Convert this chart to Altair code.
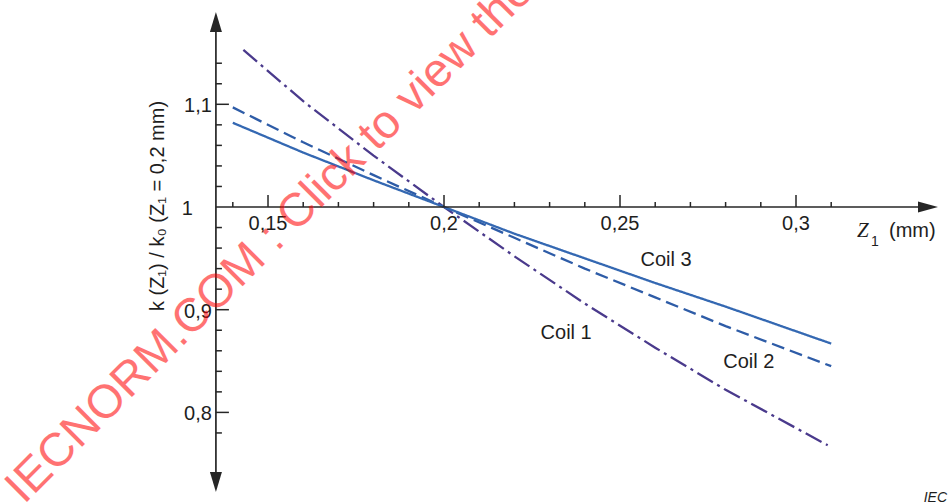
import altair as alt
import pandas as pd

# ---- data ----
coil1_z = [0.143, 0.16, 0.18, 0.20, 0.22, 0.24, 0.26, 0.28, 0.309]
coil1_k = [1.153, 1.103, 1.050, 1.000, 0.952, 0.906, 0.863, 0.822, 0.768]
coil2_z = [0.14, 0.16, 0.18, 0.20, 0.22, 0.24, 0.26, 0.28, 0.31]
coil2_k = [1.097, 1.063, 1.031, 1.000, 0.970, 0.940, 0.912, 0.884, 0.845]
coil3_z = [0.14, 0.16, 0.18, 0.20, 0.22, 0.24, 0.26, 0.28, 0.31]
coil3_k = [1.082, 1.053, 1.026, 1.000, 0.974, 0.950, 0.926, 0.903, 0.867]

series_names = ["Coil 1", "Coil 2", "Coil 3"]
label_z = [0.2347, 0.2866, 0.2631]
label_k = [0.8773, 0.8491, 0.9484]

x_major = [0.15, 0.20, 0.25, 0.30]
x_major_labels = ["0,15", "0,2", "0,25", "0,3"]
x_minor = [0.14, 0.16, 0.17, 0.18, 0.19, 0.21, 0.22, 0.23, 0.24,
           0.26, 0.27, 0.28, 0.29, 0.31]
y_major = [0.8, 0.9, 1.1]
y_major_labels = ["0,8", "0,9", "1,1"]
y_one_label = ["1"]
y_minor = [0.78, 0.82, 0.84, 0.86, 0.88, 0.92, 0.94, 0.96, 0.98,
           1.02, 1.04, 1.06, 1.08, 1.12, 1.14]

# ---- layout constants ----
W, H = 950, 504
X_DOMAIN = [0.07386, 0.34375]
Y_DOMAIN = [0.71081, 1.20156]
X_CROSS = 0.1352
Y_CROSS = 1.0
Y_TOP_BASE, Y_TOP_CTR = 1.1704, 1.1801
Y_BOT_BASE, Y_BOT_CTR = 0.7420, 0.7323
X_ARR_BASE, X_ARR_CTR = 0.3347, 0.3375

FONT = "Liberation Sans"
INK = "#1e1e1e"
AX = "#262626"
colors = ["#4a3a8c", "#2e5ca7", "#3468b2"]
dashes = [[18, 5, 3, 5], [13, 6], [1, 0]]

xs = alt.Scale(domain=X_DOMAIN, nice=False, zero=False)
ys = alt.Scale(domain=Y_DOMAIN, nice=False, zero=False)

rows = []
for name, zz, kk in zip(series_names, [coil1_z, coil2_z, coil3_z], [coil1_k, coil2_k, coil3_k]):
    for z, k in zip(zz, kk):
        rows.append({"coil": name, "z": z, "k": k})
lines_df = pd.DataFrame(rows)

one = alt.Data(values=[{"a": 1}])

lines = alt.Chart(lines_df).mark_line(strokeWidth=2.3, clip=False).encode(
    x=alt.X("z:Q", scale=xs, axis=None),
    y=alt.Y("k:Q", scale=ys, axis=None),
    color=alt.Color("coil:N", scale=alt.Scale(domain=series_names, range=colors), legend=None),
    strokeDash=alt.StrokeDash("coil:N", scale=alt.Scale(domain=series_names, range=dashes), legend=None),
)

labels = alt.Chart(pd.DataFrame({"t": series_names, "z": label_z, "k": label_k})).mark_text(
    font=FONT, fontSize=20, color=INK, align="center", baseline="middle"
).encode(x=alt.X("z:Q", scale=xs), y=alt.Y("k:Q", scale=ys), text="t:N")

# axes lines
x_axis = alt.Chart(one).mark_rule(color=AX, strokeWidth=1.7).encode(
    x=alt.datum(X_CROSS, scale=xs), x2=alt.datum(X_ARR_BASE), y=alt.datum(Y_CROSS, scale=ys)
)
y_axis = alt.Chart(one).mark_rule(color=AX, strokeWidth=1.7).encode(
    y=alt.datum(Y_BOT_BASE, scale=ys), y2=alt.datum(Y_TOP_BASE), x=alt.datum(X_CROSS, scale=xs)
)

def arrow(path, xv, yv):
    return alt.Chart(one).mark_point(shape=path, filled=True, size=400, color=AX, opacity=1, strokeWidth=0).encode(
        x=alt.datum(xv, scale=xs), y=alt.datum(yv, scale=ys)
    )

arr_top = arrow("M0,-1L0.6,1L-0.6,1Z", X_CROSS, Y_TOP_CTR)
arr_bot = arrow("M0,1L0.6,-1L-0.6,-1Z", X_CROSS, Y_BOT_CTR)
arr_right = arrow("M1,0L-1,-0.55L-1,0.55Z", X_ARR_CTR, Y_CROSS)

# ticks
xmaj = alt.Chart(pd.DataFrame({"v": x_major})).mark_rule(color=AX, strokeWidth=1.5, y2Offset=-12).encode(
    x=alt.X("v:Q", scale=xs), y=alt.datum(Y_CROSS, scale=ys), y2=alt.datum(Y_CROSS)
)
xmin = alt.Chart(pd.DataFrame({"v": x_minor})).mark_rule(color=AX, strokeWidth=1.5, y2Offset=-5).encode(
    x=alt.X("v:Q", scale=xs), y=alt.datum(Y_CROSS, scale=ys), y2=alt.datum(Y_CROSS)
)
ymaj = alt.Chart(pd.DataFrame({"v": y_major})).mark_rule(color=AX, strokeWidth=1.5, x2Offset=13).encode(
    y=alt.Y("v:Q", scale=ys), x=alt.datum(X_CROSS, scale=xs), x2=alt.datum(X_CROSS)
)
ymin = alt.Chart(pd.DataFrame({"v": y_minor})).mark_rule(color=AX, strokeWidth=1.5, x2Offset=6).encode(
    y=alt.Y("v:Q", scale=ys), x=alt.datum(X_CROSS, scale=xs), x2=alt.datum(X_CROSS)
)

# tick labels
xlab = alt.Chart(pd.DataFrame({"v": x_major, "t": x_major_labels})).mark_text(
    font=FONT, fontSize=20, color=INK, align="center", baseline="top", dy=7
).encode(x=alt.X("v:Q", scale=xs), y=alt.datum(Y_CROSS, scale=ys), text="t:N")
ylab = alt.Chart(pd.DataFrame({"v": y_major, "t": y_major_labels})).mark_text(
    font=FONT, fontSize=20, color=INK, align="right", baseline="middle", dx=-4, dy=2
).encode(y=alt.Y("v:Q", scale=ys), x=alt.datum(X_CROSS, scale=xs), text="t:N")
ylab1 = alt.Chart(pd.DataFrame({"v": [Y_CROSS], "t": y_one_label})).mark_text(
    font=FONT, fontSize=20, color=INK, align="right", baseline="middle", dx=-23, dy=2
).encode(y=alt.Y("v:Q", scale=ys), x=alt.datum(X_CROSS, scale=xs), text="t:N")

# axis titles
ytitle = alt.Chart(one).mark_text(
    font=FONT, fontSize=20, color=INK, angle=270, align="center", baseline="middle"
).encode(x=alt.value(158), y=alt.value(206), text=alt.value("k (Z\u2081) / k\u2080 (Z\u2081 = 0,2 mm)"))

xt_z = alt.Chart(one).mark_text(
    font="Liberation Serif", fontStyle="italic", fontSize=21, color=INK, align="left", baseline="alphabetic"
).encode(x=alt.value(857), y=alt.value(237), text=alt.value("Z"))
xt_1 = alt.Chart(one).mark_text(
    font=FONT, fontSize=14, color=INK, align="left", baseline="alphabetic"
).encode(x=alt.value(871), y=alt.value(246), text=alt.value("1"))
xt_mm = alt.Chart(one).mark_text(
    font=FONT, fontSize=20, color=INK, align="left", baseline="alphabetic"
).encode(x=alt.value(889), y=alt.value(237), text=alt.value("(mm)"))

iec = alt.Chart(one).mark_text(
    font=FONT, fontSize=14, fontStyle="italic", color=INK, align="right", baseline="alphabetic"
).encode(x=alt.value(947), y=alt.value(502), text=alt.value("IEC"))

watermark = alt.Chart(one).mark_text(
    font=FONT, fontSize=47, color="#ff0000", opacity=0.55, angle=315, align="left", baseline="alphabetic"
).encode(x=alt.value(24), y=alt.value(505), text=alt.value("IECNORM.COM : Click to view the"))

chart = alt.layer(
    lines, x_axis, y_axis, xmaj, xmin, ymaj, ymin, arr_top, arr_bot, arr_right,
    xlab, ylab, ylab1, labels, ytitle, xt_z, xt_1, xt_mm, iec, watermark
).properties(
    width=W, height=H, padding=0, autosize=alt.AutoSizeParams(type="none"), background="white"
).configure_view(strokeWidth=0)

chart.save("out.html", embed_options={"renderer": "svg", "actions": False})
